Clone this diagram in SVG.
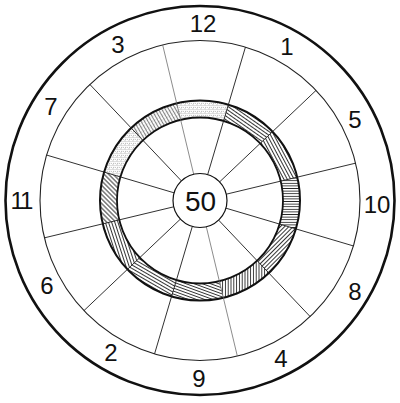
<svg xmlns="http://www.w3.org/2000/svg" width="400" height="403" viewBox="0 0 400 403">
<style>
.num{font-family:"Liberation Sans",Arial,sans-serif;font-size:24px;fill:#111;text-anchor:middle}
.ctr{font-family:"Liberation Sans",Arial,sans-serif;font-size:28px;fill:#111;text-anchor:middle}
.ray{stroke:#1a1a1a;stroke-width:0.9;fill:none}
.ray.lt{stroke:#666;stroke-width:0.75}
.hl{stroke:#111;stroke-width:0.85}
</style>
<defs>
<pattern id="stip" patternUnits="userSpaceOnUse" width="4" height="4">
<circle cx="1" cy="1" r="0.5" fill="#555"/>
<circle cx="3" cy="1.8" r="0.45" fill="#666"/>
<circle cx="1.8" cy="3.2" r="0.45" fill="#555"/>
<circle cx="3.6" cy="3.7" r="0.4" fill="#777"/>
</pattern>
<pattern id="h35" patternUnits="userSpaceOnUse" width="4" height="3" patternTransform="rotate(35)"><line class="hl" x1="0" y1="1.5" x2="4" y2="1.5"/></pattern>
<pattern id="h62" patternUnits="userSpaceOnUse" width="4" height="3" patternTransform="rotate(62)"><line class="hl" x1="0" y1="1.5" x2="4" y2="1.5"/></pattern>
<pattern id="h0" patternUnits="userSpaceOnUse" width="4" height="2.6"><line class="hl" x1="0" y1="1.3" x2="4" y2="1.3"/></pattern>
<pattern id="hm45" patternUnits="userSpaceOnUse" width="4" height="3" patternTransform="rotate(-45)"><line class="hl" x1="0" y1="1.5" x2="4" y2="1.5"/></pattern>
<pattern id="h90" patternUnits="userSpaceOnUse" width="4" height="2.8" patternTransform="rotate(90)"><line class="hl" x1="0" y1="1.4" x2="4" y2="1.4"/></pattern>
<pattern id="h20" patternUnits="userSpaceOnUse" width="4" height="2.8" patternTransform="rotate(20)"><line class="hl" x1="0" y1="1.4" x2="4" y2="1.4"/></pattern>
<pattern id="h30" patternUnits="userSpaceOnUse" width="4" height="3" patternTransform="rotate(30)"><line class="hl" x1="0" y1="1.5" x2="4" y2="1.5"/></pattern>
<pattern id="h70" patternUnits="userSpaceOnUse" width="4" height="3" patternTransform="rotate(72)"><line class="hl" x1="0" y1="1.5" x2="4" y2="1.5"/></pattern>
<pattern id="h45" patternUnits="userSpaceOnUse" width="4" height="3.2" patternTransform="rotate(45)"><line class="hl" x1="0" y1="1.6" x2="4" y2="1.6"/></pattern>
<pattern id="h60l" patternUnits="userSpaceOnUse" width="4" height="3" patternTransform="rotate(60)"><rect width="4" height="3" fill="url(#stip)"/><line x1="0" y1="1.5" x2="4" y2="1.5" stroke="#444" stroke-width="0.6"/></pattern>
</defs>

<g id="board">
<circle cx="200" cy="200.5" r="194.5" fill="none" stroke="#111" stroke-width="2.6"/>
<circle cx="200" cy="200.5" r="160" fill="none" stroke="#222" stroke-width="1.1"/>
</g>

<g id="ring">
<path d="M176.66,103.26 A100,100 0 0 1 228.40,104.62 L223.57,120.92 A83,83 0 0 0 180.63,119.79 Z" fill="url(#stip)"/>
<path d="M228.40,104.62 A100,100 0 0 1 272.54,131.66 L260.21,143.36 A83,83 0 0 0 223.57,120.92 Z" fill="url(#h35)"/>
<path d="M272.54,131.66 A100,100 0 0 1 297.24,177.16 L280.71,181.13 A83,83 0 0 0 260.21,143.36 Z" fill="url(#h62)"/>
<path d="M297.24,177.16 A100,100 0 0 1 295.88,228.90 L279.58,224.07 A83,83 0 0 0 280.71,181.13 Z" fill="url(#h0)"/>
<path d="M295.88,228.90 A100,100 0 0 1 268.84,273.04 L257.14,260.71 A83,83 0 0 0 279.58,224.07 Z" fill="url(#hm45)"/>
<path d="M268.84,273.04 A100,100 0 0 1 223.34,297.74 L219.37,281.21 A83,83 0 0 0 257.14,260.71 Z" fill="url(#h90)"/>
<path d="M223.34,297.74 A100,100 0 0 1 171.60,296.38 L176.43,280.08 A83,83 0 0 0 219.37,281.21 Z" fill="url(#h20)"/>
<path d="M171.60,296.38 A100,100 0 0 1 127.46,269.34 L139.79,257.64 A83,83 0 0 0 176.43,280.08 Z" fill="url(#h30)"/>
<path d="M127.46,269.34 A100,100 0 0 1 102.76,223.84 L119.29,219.87 A83,83 0 0 0 139.79,257.64 Z" fill="url(#h70)"/>
<path d="M102.76,223.84 A100,100 0 0 1 104.12,172.10 L120.42,176.93 A83,83 0 0 0 119.29,219.87 Z" fill="url(#h45)"/>
<path d="M104.12,172.10 A100,100 0 0 1 131.16,127.96 L142.86,140.29 A83,83 0 0 0 120.42,176.93 Z" fill="url(#stip)"/>
<path d="M131.16,127.96 A100,100 0 0 1 176.66,103.26 L180.63,119.79 A83,83 0 0 0 142.86,140.29 Z" fill="url(#h60l)"/>
<circle cx="200" cy="200.5" r="100" fill="none" stroke="#111" stroke-width="2"/>
<circle cx="200" cy="200.5" r="83" fill="none" stroke="#111" stroke-width="1.8"/>
</g>

<g id="connectors">
<line class="ray" x1="207.67" y1="174.61" x2="245.44" y2="47.09"/>
<line class="ray" x1="219.59" y1="181.91" x2="316.06" y2="90.36"/>
<line class="ray" x1="226.25" y1="194.20" x2="355.58" y2="163.16"/>
<line class="ray" x1="225.89" y1="208.17" x2="353.41" y2="245.94"/>
<line class="ray" x1="218.59" y1="220.09" x2="310.14" y2="316.56"/>
<line class="ray lt" x1="206.30" y1="226.75" x2="237.34" y2="356.08"/>
<line class="ray" x1="192.33" y1="226.39" x2="154.56" y2="353.91"/>
<line class="ray" x1="180.41" y1="219.09" x2="83.94" y2="310.64"/>
<line class="ray" x1="173.75" y1="206.80" x2="44.42" y2="237.84"/>
<line class="ray" x1="174.11" y1="192.83" x2="46.59" y2="155.06"/>
<line class="ray" x1="181.41" y1="180.91" x2="89.86" y2="84.44"/>
<line class="ray lt" x1="193.70" y1="174.24" x2="162.66" y2="44.92"/>
</g>

<g id="center">
<circle cx="200" cy="200.5" r="27" fill="#fff" stroke="#111" stroke-width="1.2"/>
<text class="ctr" x="200.5" y="210.5">50</text>
</g>

<g id="labels">
<text class="num" x="203" y="31.6">12</text>
<text class="num" x="287" y="54.6">1</text>
<text class="num" x="355" y="127.6">5</text>
<text class="num" x="377" y="213">10</text>
<text class="num" x="355" y="299.6">8</text>
<text class="num" x="281" y="366.6">4</text>
<text class="num" x="199" y="386.6">9</text>
<text class="num" x="111" y="360.6">2</text>
<text class="num" x="47" y="293.6">6</text>
<text class="num" x="21" y="209" letter-spacing="-2">11</text>
<text class="num" x="51" y="114.6">7</text>
<text class="num" x="118" y="52.6">3</text>
</g>
</svg>
